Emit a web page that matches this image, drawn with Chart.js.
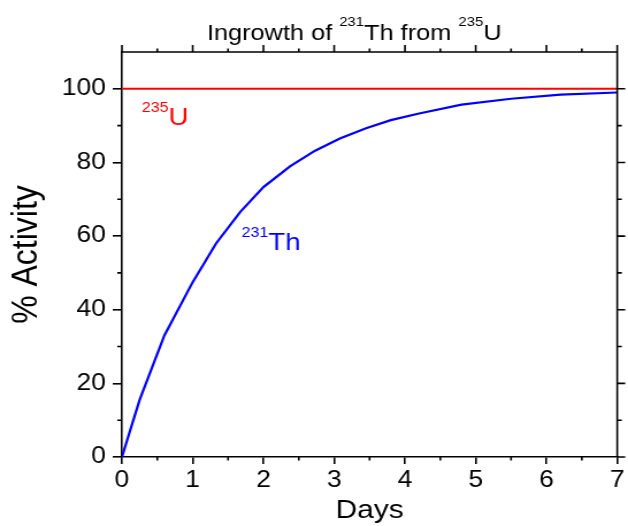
<!DOCTYPE html>
<html>
<head>
<meta charset="utf-8">
<script src="https://cdn.jsdelivr.net/npm/chart.js@4/dist/chart.umd.min.js"></script>
<style>
html, body { margin: 0; padding: 0; background: #fff; overflow: hidden; }
#c { position: absolute; left: 0; top: 0; width: 546px; height: 526px; transform: scaleX(1.1502); transform-origin: 0 0; }
</style>
</head>
<body>
<canvas id="c" width="546" height="526"></canvas>
<script>
// ---- data ----
const days   = [0, 0.25, 0.6, 1.0, 1.33, 1.67, 2.0, 2.38, 2.73, 3.08, 3.45, 3.8, 4.2, 4.8, 5.5, 6.2, 7.0];
const th231  = [0, 15.5, 33, 47.5, 58, 66.5, 73.3, 79, 83.2, 86.5, 89.3, 91.5, 93.3, 95.7, 97.3, 98.4, 99.0];
const uDays  = [0, 7];
const u235   = [100, 100];
const xMajor = [0, 1, 2, 3, 4, 5, 6, 7];
const xMinor = [0.5, 1.5, 2.5, 3.5, 4.5, 5.5, 6.5];
const yMajor = [0, 20, 40, 60, 80, 100];
const yMinor = [10, 30, 50, 70, 90];
const titleParts = [["Ingrowth of ", 0], ["231", 1], ["Th from ", 0], ["235", 1], ["U", 0]];
const uLabel  = { x: 0.28, y: 90.2, sup: "235", main: "U", color: "#ff0000" };
const thLabel = { x: 1.69, y: 56.1, sup: "231", main: "Th", color: "#0000ff" };

const FONT = '"Liberation Sans", Arial, Helvetica, sans-serif';

function drawParts(ctx, parts, x, y, mainSize, supSize, raise, color, center) {
  ctx.save();
  ctx.fillStyle = color;
  ctx.textBaseline = 'alphabetic';
  ctx.textAlign = 'left';
  let total = 0;
  const widths = parts.map(p => {
    ctx.font = (p[1] ? supSize : mainSize) + 'px ' + FONT;
    const w = ctx.measureText(p[0]).width;
    total += w;
    return w;
  });
  let cx = center ? x - total / 2 : x;
  parts.forEach((p, i) => {
    ctx.font = (p[1] ? supSize : mainSize) + 'px ' + FONT;
    ctx.fillText(p[0], cx, p[1] ? y - raise : y);
    cx += widths[i];
  });
  ctx.restore();
}

const extras = {
  id: 'extras',
  afterDraw(chart) {
    const ctx = chart.ctx;
    const xs = chart.scales.x, ys = chart.scales.y;
    const a = chart.chartArea;
    ctx.save();
    ctx.strokeStyle = '#000';
    ctx.lineWidth = 1.6;
    ctx.beginPath();
    // top and right frame
    ctx.moveTo(a.left, a.top); ctx.lineTo(a.right, a.top);
    ctx.moveTo(a.right, a.top); ctx.lineTo(a.right, a.bottom);
    // top ticks
    xMajor.forEach(v => { const p = xs.getPixelForValue(v); ctx.moveTo(p, a.top); ctx.lineTo(p, a.top - 7); });
    xMinor.forEach(v => { const p = xs.getPixelForValue(v); ctx.moveTo(p, a.top); ctx.lineTo(p, a.top - 3.5);
                          ctx.moveTo(p, a.bottom); ctx.lineTo(p, a.bottom + 3.5); });
    // right ticks
    yMajor.forEach(v => { const p = ys.getPixelForValue(v); ctx.moveTo(a.right, p); ctx.lineTo(a.right + 7, p); });
    yMinor.forEach(v => { const p = ys.getPixelForValue(v); ctx.moveTo(a.right, p); ctx.lineTo(a.right + 4, p);
                          ctx.moveTo(a.left, p); ctx.lineTo(a.left - 4, p); });
    ctx.stroke();
    ctx.restore();

    // title
    drawParts(ctx, titleParts, 308, 40, 22, 13, 14, '#000', true);
    // series labels
    [uLabel, thLabel].forEach(l => {
      drawParts(ctx, [[l.sup, 1], [l.main, 0]], xs.getPixelForValue(l.x), ys.getPixelForValue(l.y), 24, 14, 13, l.color, false);
    });
  }
};

new Chart(document.getElementById('c'), {
  type: 'scatter',
  data: {
    datasets: [
      { label: '235U', data: uDays.map((d, i) => ({ x: d, y: u235[i] })), showLine: true,
        borderColor: '#ff0000', borderWidth: 2, pointRadius: 0, tension: 0 },
      { label: '231Th', data: days.map((d, i) => ({ x: d, y: th231[i] })), showLine: true,
        borderColor: '#0000ff', borderWidth: 2.2, pointRadius: 0, tension: 0 }
    ]
  },
  options: {
    responsive: false,
    animation: false,
    devicePixelRatio: 1,
    layout: { padding: { top: 52, right: 2.6, left: 0, bottom: 0 } },
    plugins: { legend: { display: false }, tooltip: { enabled: false }, title: { display: false } },
    scales: {
      x: {
        type: 'linear', position: 'bottom', min: 0, max: 7,
        afterFit: s => { s.height = 69; },
        ticks: { stepSize: 1, color: '#000', padding: 3, font: { family: FONT, size: 23 }, maxRotation: 0, autoSkip: false },
        grid: { display: true, drawOnChartArea: false, drawTicks: true, tickLength: 7, color: '#000', lineWidth: 1.6 },
        border: { display: true, color: '#000', width: 1.6 },
        title: { display: true, text: 'Days', color: '#000', font: { family: FONT, size: 26, lineHeight: 1.2 }, padding: { top: 0, bottom: 0 } }
      },
      y: {
        type: 'linear', position: 'left', min: 0, max: 110,
        afterFit: s => { s.width = 106; },
        ticks: { stepSize: 20, includeBounds: false, color: '#000', padding: 6, font: { family: FONT, size: 23 }, autoSkip: false },
        grid: { display: true, drawOnChartArea: false, drawTicks: true, tickLength: 8, color: '#000', lineWidth: 1.6 },
        border: { display: true, color: '#000', width: 1.6 },
        title: { display: true, text: '% Activity', color: '#000', font: { family: FONT, size: 32, lineHeight: 1.2 }, padding: { top: 4, bottom: 0 } }
      }
    }
  },
  plugins: [extras]
});
</script>
</body>
</html>
